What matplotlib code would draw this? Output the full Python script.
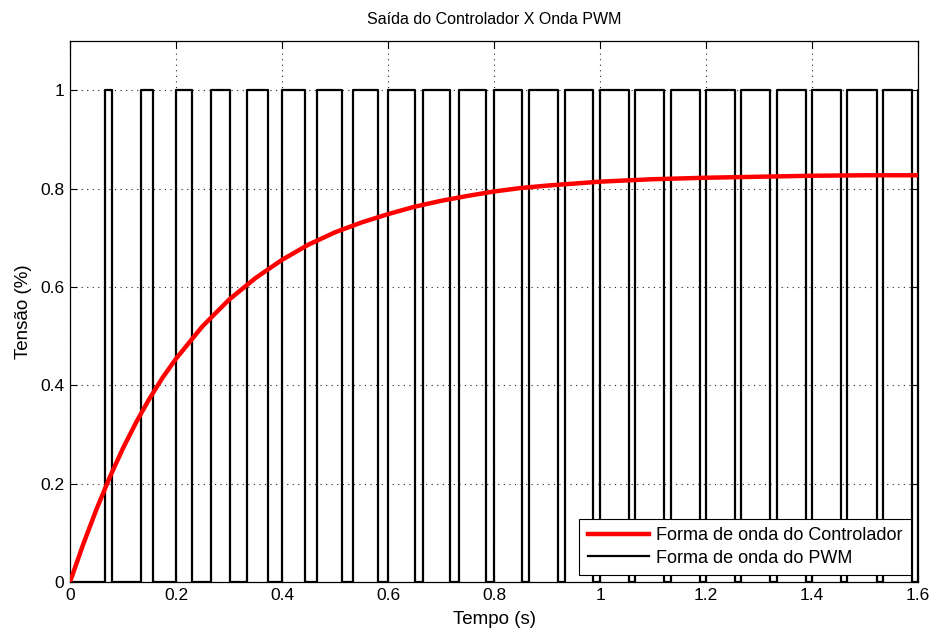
import matplotlib
matplotlib.use("Agg")
import matplotlib.pyplot as plt

plt.rcParams['font.family'] = ['Liberation Sans', 'DejaVu Sans']

# Controller output (step response)
ctrl_t = [0.0, 0.025, 0.05, 0.075, 0.1, 0.125, 0.15, 0.175, 0.2, 0.25, 0.3, 0.35,
          0.4, 0.45, 0.5, 0.55, 0.6, 0.65, 0.7, 0.75, 0.8, 0.85, 0.9, 0.95, 1.0,
          1.1, 1.2, 1.3, 1.4, 1.5, 1.6]
ctrl_v = [0.0, 0.077, 0.148, 0.213, 0.272, 0.325, 0.373, 0.416, 0.454, 0.520, 0.574, 0.618,
          0.655, 0.686, 0.711, 0.731, 0.748, 0.763, 0.775, 0.785, 0.794, 0.801, 0.806, 0.810, 0.814,
          0.819, 0.822, 0.824, 0.826, 0.827, 0.827]

# PWM pulses: rising-edge times (s) and duty cycle of each period
pwm_period = 0.0667
pwm_rise = [0.0667, 0.1333, 0.2, 0.2667, 0.3333, 0.4, 0.4667, 0.5333, 0.6, 0.6667,
            0.7333, 0.8, 0.8667, 0.9333, 1.0, 1.0667, 1.1333, 1.2, 1.2667, 1.3333,
            1.4, 1.4667, 1.5333, 1.6]
pwm_duty = [0.20, 0.35, 0.45, 0.54, 0.60, 0.65, 0.69, 0.72, 0.75, 0.765,
            0.78, 0.794, 0.802, 0.808, 0.814, 0.817, 0.820, 0.822, 0.823, 0.824,
            0.826, 0.827, 0.827, 0.827]

pwm_t = [0.0]
pwm_v = [0.0]
for r, d in zip(pwm_rise, pwm_duty):
    f = r + d * pwm_period
    pwm_t += [r, r, f, f]
    pwm_v += [0, 1, 1, 0]

fig = plt.figure(figsize=(9.38, 6.32), dpi=100)
ax = fig.add_axes([70 / 938, 1 - 582 / 632, 848 / 938, 541 / 632])

ax.plot(ctrl_t, ctrl_v, color='#ff0000', lw=3.2, label='Forma de onda do Controlador', zorder=3)
ax.plot(pwm_t, pwm_v, color='black', lw=1.6, label='Forma de onda do PWM', zorder=2)

ax.set_xlim(0, 1.6)
ax.set_ylim(0, 1.1)
xt = [0, 0.2, 0.4, 0.6, 0.8, 1.0, 1.2, 1.4, 1.6]
yt = [0, 0.2, 0.4, 0.6, 0.8, 1.0]
ax.set_xticks(xt)
ax.set_xticklabels(['0', '0.2', '0.4', '0.6', '0.8', '1', '1.2', '1.4', '1.6'])
ax.set_yticks(yt)
ax.set_yticklabels(['0', '0.2', '0.4', '0.6', '0.8', '1'])
ax.tick_params(direction='in', top=True, right=True, labelsize=12.5, length=5, width=0.8, pad=4)
ax.grid(True, linestyle=(0, (1, 4)), color='#222222', linewidth=0.8)
for s in ax.spines.values():
    s.set_linewidth(0.9)

ax.set_title('Saída do Controlador X Onda PWM', fontsize=11.5, pad=12)
ax.set_xlabel('Tempo (s)', fontsize=13.5, labelpad=6)
ax.set_ylabel('Tensão (%)', fontsize=13.5, labelpad=6)

leg = ax.legend(loc='lower right', fontsize=13, frameon=True, fancybox=False,
                edgecolor='black', framealpha=1, borderaxespad=0.4,
                handlelength=3.4, handletextpad=0.4, borderpad=0.45, labelspacing=0.3)
leg.get_frame().set_linewidth(0.8)

fig.savefig('out.png', dpi=100)
